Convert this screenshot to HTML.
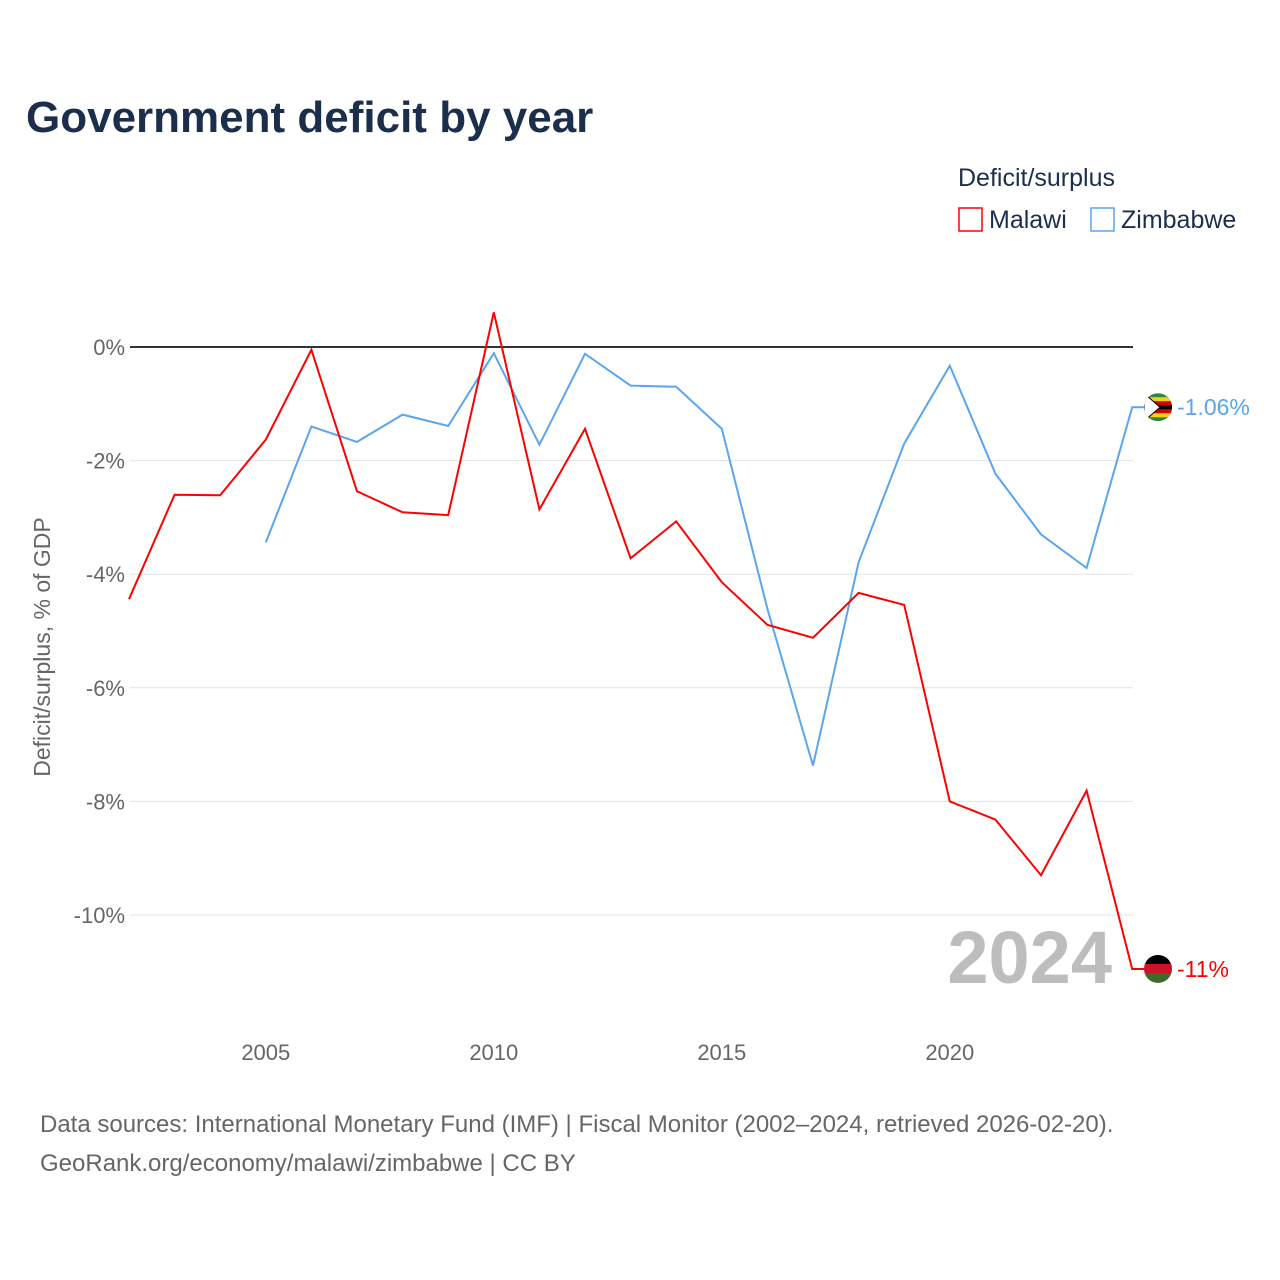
<!DOCTYPE html>
<html><head><meta charset="utf-8">
<style>
body{margin:0;background:#fff;font-family:"Liberation Sans",sans-serif;}
svg{display:block}
text{font-family:"Liberation Sans",sans-serif}
</style></head>
<body>
<svg id="chart" width="1280" height="1280" viewBox="0 0 1280 1280">
<defs><clipPath id="cz"><circle id="czc" cx="1158" cy="0" r="14"/></clipPath><clipPath id="cm"><circle id="cmc" cx="1158" cy="0" r="14"/></clipPath></defs>
<text x="26" y="132" font-size="44" font-weight="bold" fill="#1b2f4d">Government deficit by year</text>
<text x="958" y="186" font-size="25" fill="#1b2f4d">Deficit/surplus</text>
<g><rect x="959" y="208" width="23" height="23" fill="none" stroke="#f00" stroke-width="1.5"/><text x="989" y="228" font-size="25" fill="#1b2f4d">Malawi</text></g>
<g><rect x="1091" y="208" width="23" height="23" fill="none" stroke="#5aa5ee" stroke-width="1.5"/><text x="1121" y="228" font-size="25" fill="#1b2f4d">Zimbabwe</text></g>
<g id="grid"></g>
<text x="1112" y="983" font-size="74" font-weight="bold" fill="#bdbdbd" text-anchor="end">2024</text>
<g id="series"></g>
<text transform="translate(50,647) rotate(-90)" font-size="23" fill="#666" text-anchor="middle">Deficit/surplus, % of GDP</text>
<text x="40" y="1132" font-size="24" fill="#666">Data sources: International Monetary Fund (IMF) | Fiscal Monitor (2002–2024, retrieved 2026-02-20).</text>
<text x="40" y="1171" font-size="24" fill="#666">GeoRank.org/economy/malawi/zimbabwe | CC BY</text>
</svg>
<script>
const years=[2002,2003,2004,2005,2006,2007,2008,2009,2010,2011,2012,2013,2014,2015,2016,2017,2018,2019,2020,2021,2022,2023,2024];
const malawi=[-4.44,-2.60,-2.61,-1.63,-0.05,-2.54,-2.91,-2.96,0.61,-2.86,-1.44,-3.72,-3.07,-4.14,-4.89,-5.12,-4.33,-4.54,-8.0,-8.32,-9.30,-7.81,-10.95];
const zimbabwe=[null,null,null,-3.44,-1.40,-1.67,-1.19,-1.39,-0.11,-1.72,-0.12,-0.68,-0.70,-1.44,-4.61,-7.37,-3.79,-1.70,-0.33,-2.23,-3.30,-3.89,-1.06];
const yTicks=[0,-2,-4,-6,-8,-10];
const xTicks=[2005,2010,2015,2020];
const NS="http://www.w3.org/2000/svg";
const X=y=>129+(y-2002)*45.6;
const Y=v=>347-v*56.8;
const grid=document.getElementById('grid'),ser=document.getElementById('series');
function mk(tag,attrs,parent,txt){const e=document.createElementNS(NS,tag);for(const k in attrs)e.setAttribute(k,attrs[k]);if(txt!=null)e.textContent=txt;parent.appendChild(e);return e;}
yTicks.forEach(t=>{
  const l=mk('line',{x1:130,x2:1133,y1:Y(t),y2:Y(t),stroke:t===0?'#333':'#e3e3e3','stroke-width':t===0?2:1},grid);
  
  
  const tx=mk('text',{x:125,y:Y(t)+8,'font-size':22,fill:'#666','text-anchor':'end'},grid,t+'%');
  
  
});
xTicks.forEach(t=>{
  const tx=mk('text',{x:X(t),y:1060,'font-size':22,fill:'#666','text-anchor':'middle'},grid,String(t));
  
  
});
function line(vals,color,name){
  let d='';vals.forEach((v,i)=>{if(v==null)return;d+=(d?'L':'M')+X(years[i]).toFixed(1)+','+Y(v).toFixed(1);});
  const last=vals[vals.length-1],ly=Y(last);
  d+='H1145';
  const p=mk('path',{d:d,fill:'none',stroke:color,'stroke-width':2},ser);
  
  
  const lab=mk('text',{x:1177,y:ly+8,'font-size':23,fill:color},ser,(Math.abs(last-Math.round(last))<0.06?Math.round(last):last.toFixed(2))+'%');
  
  
  return ly;
}
const zy=line(zimbabwe,'#5aa5ee','zimbabwe');
const my=line(malawi,'#f00','malawi');
document.getElementById('czc').setAttribute('cy',zy);
document.getElementById('cmc').setAttribute('cy',my);
const gm=mk('g',{'clip-path':'url(#cm)'},ser);


mk('rect',{x:1144,y:my-14,width:28,height:10,fill:'#000'},gm);
mk('rect',{x:1144,y:my-5,width:28,height:10,fill:'#ce1126'},gm);
mk('rect',{x:1144,y:my+4,width:28,height:10,fill:'#3e6b2a'},gm);
const gz=mk('g',{'clip-path':'url(#cz)'},ser);


mk('rect',{x:1144,y:zy-14,width:28,height:28,fill:'#2d8a3e'},gz);
mk('rect',{x:1144,y:zy-10,width:28,height:20,fill:'#f5d10c'},gz);
mk('rect',{x:1144,y:zy-6,width:28,height:12,fill:'#d40000'},gz);
mk('rect',{x:1144,y:zy-2,width:28,height:4,fill:'#000'},gz);
mk('path',{d:`M1144,${zy-14}L1160,${zy}L1144,${zy+14}z`,fill:'#fff',stroke:'#000','stroke-width':1},gz);
</script>
</body></html>
